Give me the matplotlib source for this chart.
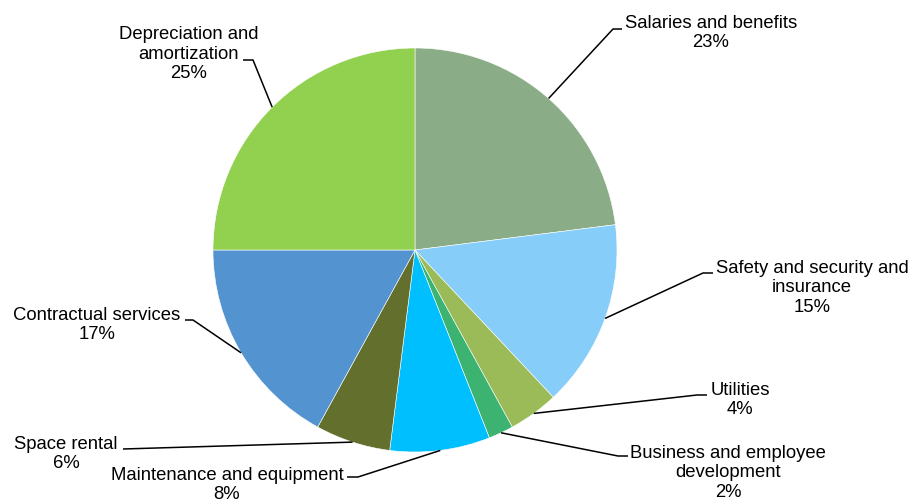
import numpy as np
from matplotlib import pyplot as plt

plt.rcParams['font.family'] = ['Liberation Sans', 'DejaVu Sans']

categories = ["Salaries and benefits", "Safety and security and\ninsurance", "Utilities",
              "Business and employee\ndevelopment", "Maintenance and equipment", "Space rental",
              "Contractual services", "Depreciation and\namortization"]
shares = [23, 15, 4, 2, 8, 6, 17, 25]
colors = ["#8AAC86", "#87CDF9", "#9BBB59", "#3CB371", "#00BFFF", "#636F2C", "#5393CF", "#92D050"]

# label layout in pixel coords (y from top): text centre, stub end, elbow
label_xy = [(711, 33), (812, 288), (740, 400), (728, 473), (227, 485), (66, 454), (97, 325), (189, 54)]
stub_start = [(622, 29), (713, 273), (707, 395), (628, 456), (347, 477), (123, 449), (185, 320), (243, 60)]
stub_elbow = [(613, 29), (703, 273), (697, 395), (618, 456), (358, 477), (123, 449), (193, 320), (253, 60)]

W, H = 912, 499
cx, cy, r = 415, 250, 202

fig = plt.figure(figsize=(W / 100, H / 100), dpi=100)
ax = fig.add_axes([0, 0, 1, 1])

wedges, _ = ax.pie(shares, colors=colors, startangle=90, counterclock=False,
                   center=(cx, H - cy), radius=r, frame=True,
                   wedgeprops=dict(edgecolor="white", linewidth=0.4))
ax.set_xlim(0, W)
ax.set_ylim(0, H)
ax.axis("off")

for i, w in enumerate(wedges):
    mid = np.deg2rad((w.theta1 + w.theta2) / 2)
    px = cx + r * np.cos(mid)
    py = (H - cy) + r * np.sin(mid)
    xs = [stub_start[i][0], stub_elbow[i][0], px]
    ys = [H - stub_start[i][1], H - stub_elbow[i][1], py]
    ax.plot(xs, ys, color="black", linewidth=1.1, solid_capstyle="butt")
    tx, ty = label_xy[i]
    ax.text(tx, H - ty, categories[i] + "\n" + str(shares[i]) + "%", ha="center", va="center",
            fontsize=13.3, linespacing=1.2, color="black")

fig.savefig("out.png", dpi=100)
